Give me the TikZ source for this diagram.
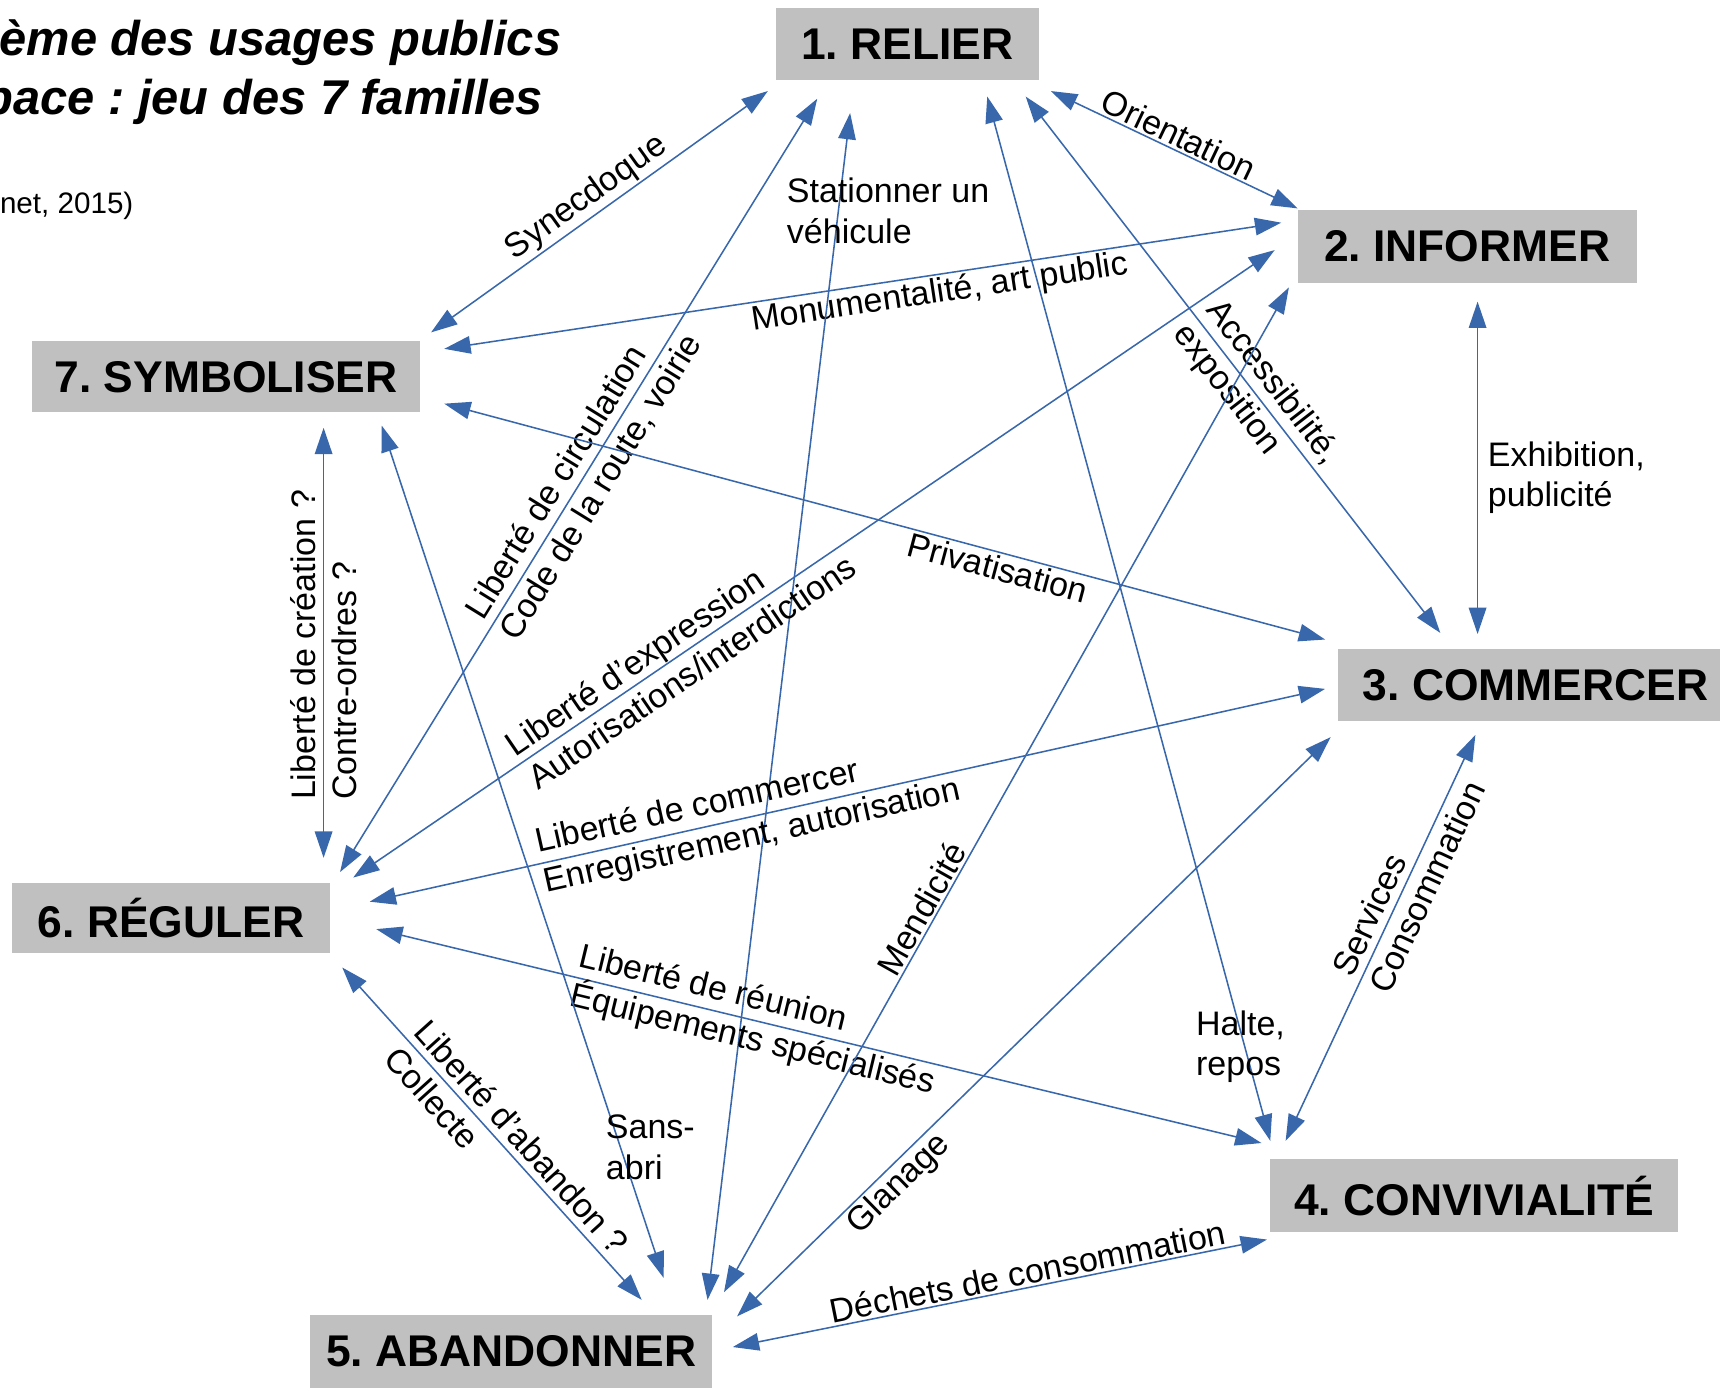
\documentclass[tikz,border=0pt]{standalone}
\usepackage{fontspec}
\setmainfont{Liberation Sans}
\usetikzlibrary{arrows.meta}
\definecolor{boxgray}{RGB}{192,192,192}
\definecolor{linkblue}{RGB}{56,103,171}
\frenchspacing
\begin{document}
\begin{tikzpicture}[x=0.5pt,y=-0.5pt,
  box/.style={fill=boxgray, inner sep=0pt, font={\fontsize{20.25}{24}\selectfont\bfseries}},
  conn/.style={draw=linkblue, line width=0.7pt, {Triangle[length=12pt,width=8pt]}-{Triangle[length=12pt,width=8pt]}},
  lbl/.style={font={\fontsize{15.5}{18.5}\selectfont}, inner sep=1pt, text=black},
  lbltwo/.style={lbl, align=left, anchor=center, inner sep=0pt},
  lblflat/.style={lbl, align=left, anchor=north west, inner sep=0pt},
  titlefont/.style={font={\fontsize{22.25}{26}\selectfont\bfseries\itshape}, inner sep=0pt, anchor=base east},
  srcfont/.style={font={\fontsize{13.5}{16}\selectfont}, inner sep=0pt, anchor=base east}]
\path[use as bounding box, clip] (0,0) rectangle (1568,1274);

% title (cut off at the left edge)
\node[titlefont] (t1) at (512,51) {ème des usages publics};
\node[titlefont] (t2) at (495,104) {pace : jeu des 7 familles};
\node[srcfont] (t3) at (122,195) {net, 2015)};

% boxes
\node[box, minimum width=120pt, minimum height=33pt] (n1) at (827,40) {1. RELIER};
\node[box, minimum width=154.5pt, minimum height=33.5pt] (n2) at (1337.5,224.5) {2. INFORMER};
\node[box, minimum width=180pt, minimum height=32.5pt] (n3) at (1400,624.5) {3. COMMERCER};
\node[box, minimum width=186pt, minimum height=33pt] (n4) at (1344,1090) {4. CONVIVIALITÉ};
\node[box, minimum width=183pt, minimum height=33pt] (n5) at (466,1232) {5. ABANDONNER};
\node[box, minimum width=145pt, minimum height=32pt] (n6) at (156,837) {6. RÉGULER};
\node[box, minimum width=177pt, minimum height=32.5pt] (n7) at (206,343.5) {7. SYMBOLISER};

% connectors
\draw[conn] ([shift={(-127,43)}]n1.center) -- node[lbl, sloped, above, pos=.506] {Synecdoque} ([shift={(187,-40.5)}]n7.center);
\draw[conn] ([shift={(131,43)}]n1.center) -- node[lbl, sloped, above, pos=.49] {Orientation} ([shift={(-154.5,-34.5)}]n2.center);
\draw[conn] ([shift={(199,-25.5)}]n7.center) -- node[lbl, sloped, below, pos=.589] {Monumentalité, art public} ([shift={(-169.5,-21.5)}]n2.center);
\draw[conn] ([shift={(-82,50)}]n1.center) -- node[lbltwo, sloped, pos=.489] {Liberté de circulation\\Code de la route, voirie} ([shift={(154,-42)}]n6.center);
\draw[conn] ([shift={(-52,63)}]n1.center) -- ([shift={(179,-47)}]n5.center);
\draw[conn] ([shift={(73,48)}]n1.center) -- ([shift={(-186,-50)}]n4.center);
\draw[conn] ([shift={(108,48)}]n1.center) -- node[lbltwo, sloped, pos=.556] {Accessibilité,\\exposition} ([shift={(-87,-47.5)}]n3.center);
\draw[conn] ([shift={(9.5,50.5)}]n2.center) -- ([shift={(-53,-46.5)}]n3.center);
\draw[conn] ([shift={(199,24.5)}]n7.center) -- node[lbl, sloped, below, pos=.633] {Privatisation} ([shift={(-192,-41.5)}]n3.center);
\draw[conn] ([shift={(-175.5,3.5)}]n2.center) -- node[lbltwo, sloped, pos=.645] {Liberté d’expression\\Autorisations/interdictions} ([shift={(166,-37)}]n6.center);
\draw[conn] ([shift={(181,-15)}]n6.center) -- node[lbltwo, sloped, pos=.396] {Liberté de commercer\\Enregistrement, autorisation} ([shift={(-192,3.5)}]n3.center);
\draw[conn] ([shift={(187,10)}]n6.center) -- node[lbltwo, sloped, pos=.43] {Liberté de réunion\\Équipements spécialisés} ([shift={(-194,-48)}]n4.center);
\draw[conn] ([shift={(89,46.5)}]n7.center) -- node[lbltwo, rotate=90, pos=.505] {Liberté de création ?\\Contre-ordres ?} ([shift={(139,-55)}]n6.center);
\draw[conn] ([shift={(142,44.5)}]n7.center) -- ([shift={(139,-67)}]n5.center);
\draw[conn] ([shift={(-162.5,37.5)}]n2.center) -- node[lbl, sloped, above, pos=.626] {Mendicité} ([shift={(194,-54)}]n5.center);
\draw[conn] ([shift={(-187,47.5)}]n3.center) -- node[lbl, sloped, below, pos=.749] {Glanage} ([shift={(206,-32)}]n5.center);
\draw[conn] ([shift={(202,-4)}]n5.center) -- node[lbl, sloped, above, pos=.558] {Déchets de consommation} ([shift={(-189,40)}]n4.center);
\draw[conn] ([shift={(156,45)}]n6.center) -- node[lbltwo, sloped, pos=.55] {Liberté d'abandon ?\\Collecte} ([shift={(119,-47)}]n5.center);
\draw[conn] ([shift={(-55,45.5)}]n3.center) -- node[lbltwo, sloped, pos=.354] {Services\\Consommation} ([shift={(-172,-50)}]n4.center);

% horizontal labels
\node[lblflat] (l5) at (717,162) {Stationner un\\véhicule};
\node[lblflat] (l6) at (1090,921) {Halte,\\repos};
\node[lblflat] (l8) at (1356,402) {Exhibition,\\publicité};
\node[lblflat] (l14) at (552,1016) {Sans-\\abri};
\end{tikzpicture}
\end{document}
